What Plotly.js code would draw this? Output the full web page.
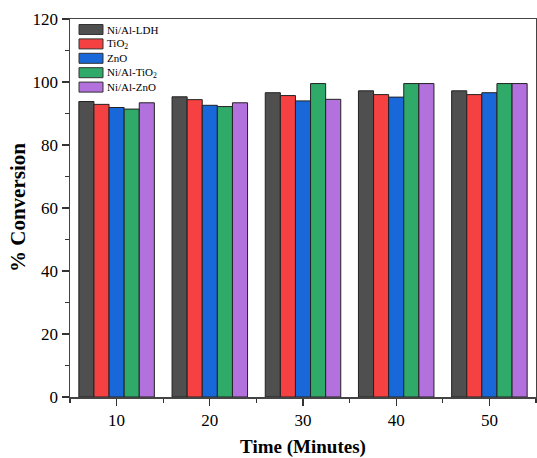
<!DOCTYPE html>
<html>
<head>
<meta charset="utf-8">
<script src="https://cdn.plot.ly/plotly-3.0.1.min.js"></script>
<style>html,body{margin:0;padding:0;background:#fff;}#chart{width:537px;height:458px;}</style>
</head>
<body>
<div id="chart"></div>
<script>
const times = [10, 20, 30, 40, 50];
const seriesNames = ["Ni/Al-LDH", "TiO<sub>2</sub>", "ZnO", "Ni/Al-TiO<sub>2</sub>", "Ni/Al-ZnO"];
const ldh    = [93.8, 95.3, 96.6, 97.2, 97.2];
const tio2   = [92.9, 94.4, 95.7, 96.0, 96.0];
const zno    = [91.9, 92.6, 94.0, 95.2, 96.6];
const niTio2 = [91.4, 92.2, 99.5, 99.5, 99.5];
const niZno  = [93.4, 93.4, 94.5, 99.5, 99.5];
const yTicks = [0, 20, 40, 60, 80, 100, 120];

const values = [ldh, tio2, zno, niTio2, niZno];
const colors = ["#4f4f4f", "#f54141", "#1868da", "#2faa68", "#b271dc"];

const traces = values.map((v, i) => ({
  type: "bar",
  x: times,
  y: v,
  name: seriesNames[i],
  showlegend: false,
  marker: {color: colors[i], line: {color: "#222222", width: 1}}
}));

const font = "'Liberation Serif', 'Times New Roman', serif";

// Compact legend (box + label), placed in paper coordinates of the plot area
const plotW = 466, plotH = 378;
const legLeft = 9, legTop = 10.5, rowH = 14.4, boxW = 24, boxH = 10;
const shapes = [], annotations = [];
seriesNames.forEach((n, i) => {
  const cy = legTop + i * rowH;
  shapes.push({
    type: "rect", xref: "paper", yref: "paper",
    x0: legLeft / plotW, x1: (legLeft + boxW) / plotW,
    y0: 1 - (cy + boxH / 2) / plotH, y1: 1 - (cy - boxH / 2) / plotH,
    fillcolor: colors[i], line: {color: "#333", width: 1}
  });
  annotations.push({
    xref: "paper", yref: "paper", showarrow: false,
    x: (legLeft + boxW + 2) / plotW, y: 1 - cy / plotH,
    xanchor: "left", yanchor: "middle",
    text: n, font: {family: font, size: 11, color: "#000"}
  });
});
// Y-axis title, placed as a rotated annotation
annotations.push({
  xref: "paper", yref: "paper", showarrow: false,
  x: -52 / plotW, y: 0.5, xanchor: "center", yanchor: "middle",
  textangle: -90, text: "<b>% Conversion</b>",
  font: {family: font, size: 21, color: "#000"}
});

const layout = {
  width: 537, height: 458,
  margin: {l: 70, r: 1, t: 19, b: 61},
  paper_bgcolor: "#ffffff", plot_bgcolor: "#ffffff",
  barmode: "group", bargap: 0.19, bargroupgap: 0,
  font: {family: font, color: "#000"},
  showlegend: false,
  shapes: shapes,
  annotations: annotations,
  xaxis: {
    range: [5, 55], tickvals: times, ticktext: times.map(String),
    ticks: "outside", ticklen: 7, tickwidth: 1.2, tickcolor: "#333",
    minor: {dtick: 5, tick0: 5, ticks: "outside", ticklen: 4, tickcolor: "#333", tickwidth: 1.2},
    showline: true, linecolor: "#444", linewidth: 1.5, mirror: true,
    showgrid: false, zeroline: false,
    tickfont: {family: font, size: 17, color: "#000"},
    title: {text: "<b>Time (Minutes)</b>", font: {family: font, size: 19, color: "#000"}, standoff: 14}
  },
  yaxis: {
    range: [0, 120], tickvals: yTicks,
    ticks: "outside", ticklen: 7, tickwidth: 1.2, tickcolor: "#333",
    minor: {dtick: 10, tick0: 0, ticks: "outside", ticklen: 4, tickcolor: "#333", tickwidth: 1.2},
    showline: true, linecolor: "#444", linewidth: 1.5, mirror: true,
    showgrid: false, zeroline: false,
    tickfont: {family: font, size: 17, color: "#000"}
  }
};

Plotly.newPlot("chart", traces, layout, {displayModeBar: false, staticPlot: true});
</script>
</body>
</html>
